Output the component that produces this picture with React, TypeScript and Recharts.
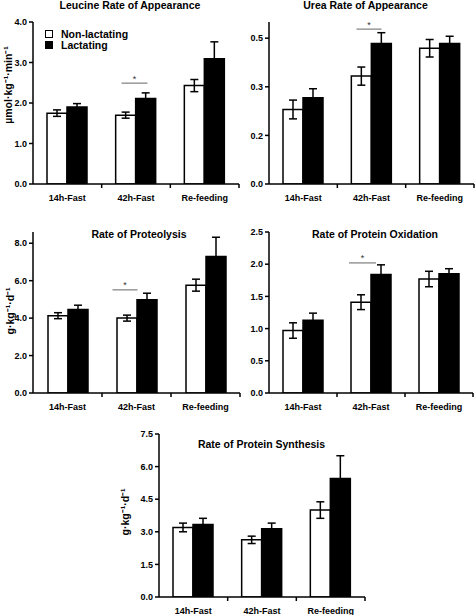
import React from "react";
import { BarChart, Bar, XAxis, YAxis, ErrorBar, ReferenceDot, Legend, Label } from "recharts";

const categories = ["14h-Fast", "42h-Fast", "Re-feeding"];
const seriesOrder = ["Non-lactating", "Lactating"];

// Leucine Ra (µmol/kg/min)
const leucineNon = [1.75, 1.7, 2.43];
const leucineNonErr = [0.08, 0.075, 0.15];
const leucineLac = [1.9, 2.11, 3.09];
const leucineLacErr = [0.085, 0.14, 0.42];

// Urea Ra
const ureaNon = [0.23, 0.333, 0.419];
const ureaNonErr = [0.029, 0.028, 0.027];
const ureaLac = [0.266, 0.434, 0.434];
const ureaLacErr = [0.028, 0.033, 0.022];
const ureaTicks = [0, 0.15, 0.3, 0.45];
const ureaTickLabels = ["0.0", "0.2", "0.3", "0.5"];

// Proteolysis (g/kg/d)
const proteoNon = [4.13, 4.0, 5.76];
const proteoNonErr = [0.16, 0.16, 0.32];
const proteoLac = [4.46, 4.98, 7.29];
const proteoLacErr = [0.23, 0.35, 1.03];

// Protein oxidation
const oxidNon = [0.97, 1.41, 1.77];
const oxidNonErr = [0.12, 0.115, 0.12];
const oxidLac = [1.13, 1.84, 1.85];
const oxidLacErr = [0.11, 0.15, 0.08];

// Protein synthesis
const synthNon = [3.2, 2.63, 4.0];
const synthNonErr = [0.2, 0.17, 0.38];
const synthLac = [3.34, 3.14, 5.45];
const synthLacErr = [0.28, 0.26, 1.05];

const FONT = "'Liberation Sans', Arial, Helvetica, sans-serif";
const XAXIS_H = 30;

function rows(non: number[], nonErr: number[], lac: number[], lacErr: number[]) {
  return categories.map((name, i) => ({
    name,
    non: non[i],
    nonErr: nonErr[i],
    lac: lac[i],
    lacErr: lacErr[i],
  }));
}

function CategoryTick(props: any) {
  const { x, y, payload } = props;
  const half = payload?.offset ?? 0;
  return (
    <g>
      <line x1={x + half} x2={x + half} y1={y} y2={y + 4} stroke="#000" strokeWidth={1.5} />
      <text x={x} y={y + 17} textAnchor="middle" fontSize={9} fontWeight="bold" fill="#000" fontFamily={FONT}>
        {payload.value}
      </text>
    </g>
  );
}

function LegendBox({ payload }: any) {
  const items = [...(payload || [])].sort(
    (a: any, b: any) => seriesOrder.indexOf(a.value) - seriesOrder.indexOf(b.value)
  );
  return (
    <div style={{ fontFamily: FONT, fontWeight: "bold", fontSize: 10.5, color: "#000" }}>
      {items.map((p: any) => (
        <div key={p.value} style={{ display: "flex", alignItems: "center", height: 10.5, lineHeight: "10.5px" }}>
          <span
            style={{
              display: "inline-block",
              width: 6,
              height: 6,
              background: p.color,
              border: "1.2px solid #000",
              marginRight: 8,
            }}
          />
          {p.value}
        </div>
      ))}
    </div>
  );
}

interface PanelProps {
  left: number;
  top: number;
  box: [number, number, number, number]; // plot x0, x1, y0, y1 in page coords
  data: ReturnType<typeof rows>;
  domain: [number, number];
  ticks: number[];
  tickLabels?: string[];
  yLabel?: string;
  labelPos?: [number, number];
  sigY?: number;
  sigDx?: [number, number];
  legend?: boolean;
}

function Panel(p: PanelProps) {
  const [x0, x1, y0, y1] = p.box;
  const yWidth = x0 - p.left;
  const width = x1 - p.left + 3;
  const marginTop = y0 - p.top;
  const height = y1 - p.top + XAXIS_H;
  const fmt = (v: number) => {
    if (p.tickLabels) {
      const i = p.ticks.findIndex((t) => Math.abs(t - v) < 1e-9);
      return i >= 0 ? p.tickLabels[i] : String(v);
    }
    return v.toFixed(1);
  };
  const [d1, d2] = p.sigDx ?? [-18, 8];
  return (
    <div style={{ position: "absolute", left: p.left, top: p.top }}>
      <BarChart
        width={width}
        height={height}
        data={p.data}
        margin={{ top: marginTop, right: 3, bottom: 0, left: 0 }}
        barSize={20}
        barGap={0}
      >
        <XAxis
          dataKey="name"
          height={XAXIS_H}
          tickLine={false}
          tickSize={0}
          tickMargin={0}
          axisLine={{ stroke: "#000", strokeWidth: 1.5 }}
          tick={<CategoryTick />}
          interval={0}
        />
        <YAxis
          width={yWidth}
          domain={p.domain}
          ticks={p.ticks}
          tickFormatter={fmt}
          allowDataOverflow
          axisLine={{ stroke: "#000", strokeWidth: 1.5 }}
          tickLine={{ stroke: "#000", strokeWidth: 1.5 }}
          tickSize={4}
          tickMargin={2}
          tick={{ fontSize: 9, fontWeight: "bold", fill: "#000", fontFamily: FONT }}
        >
          {p.yLabel && p.labelPos && (
            <Label
              content={() => (
                <text
                  transform={`translate(${p.labelPos![0]},${p.labelPos![1]}) rotate(-90)`}
                  textAnchor="middle"
                  dominantBaseline="central"
                  fontSize={10.5}
                  fontWeight="bold"
                  fill="#000"
                  fontFamily={FONT}
                >
                  {p.yLabel}
                </text>
              )}
            />
          )}
        </YAxis>
        {p.legend && (
          <Legend
            layout="horizontal"
            verticalAlign="middle"
            align="center"
            content={<LegendBox />}
            wrapperStyle={{ left: 45, top: 29, width: "auto", height: "auto" }}
          />
        )}
        <Bar dataKey="non" name="Non-lactating" fill="#fff" stroke="#000" strokeWidth={1.5} isAnimationActive={false}>
          <ErrorBar dataKey="nonErr" width={4} stroke="#000" strokeWidth={1.5} />
        </Bar>
        <Bar dataKey="lac" name="Lactating" fill="#000" stroke="#000" strokeWidth={1.5} isAnimationActive={false}>
          <ErrorBar dataKey="lacErr" width={4} stroke="#000" strokeWidth={1.5} />
        </Bar>
        {p.sigY !== undefined && (
          <ReferenceDot
            x="42h-Fast"
            y={p.sigY}
            r={0}
            shape={(s: any) => (
              <g>
                <line x1={s.cx + d1} x2={s.cx + d2} y1={s.cy} y2={s.cy} stroke="#888" strokeWidth={1.3} />
                <text
                  x={s.cx + (d1 + d2) / 2}
                  y={s.cy - 1.5}
                  textAnchor="middle"
                  fontSize={9}
                  fill="#333"
                  fontFamily={FONT}
                >
                  *
                </text>
              </g>
            )}
          />
        )}
      </BarChart>
    </div>
  );
}

const titles: [string, number, number][] = [
  ["Leucine Rate of Appearance", 130, 8.5],
  ["Urea Rate of Appearance", 365.5, 8.5],
  ["Rate of Proteolysis", 139, 238],
  ["Rate of Protein Oxidation", 375, 238],
  ["Rate of Protein Synthesis", 261.5, 448],
];

export default function App() {
  return (
    <div
      style={{
        position: "absolute",
        left: 0,
        top: 0,
        width: 476,
        height: 615,
        overflow: "hidden",
        background: "#fff",
        fontFamily: FONT,
      }}
    >
      <Panel
        left={0}
        top={0}
        box={[33, 239, 22, 184]}
        data={rows(leucineNon, leucineNonErr, leucineLac, leucineLacErr)}
        domain={[0, 4]}
        ticks={[0, 1, 2, 3, 4]}
        yLabel="µmol·kg⁻¹·min⁻¹"
        labelPos={[8, 85]}
        sigY={2.49}
        sigDx={[-14.5, 11.5]}
        legend
      />
      <Panel
        left={240}
        top={0}
        box={[269, 474, 22, 184]}
        data={rows(ureaNon, ureaNonErr, ureaLac, ureaLacErr)}
        domain={[0, 0.5]}
        ticks={ureaTicks}
        tickLabels={ureaTickLabels}
        sigY={0.478}
        sigDx={[-15, 10]}
      />
      <Panel
        left={0}
        top={210}
        box={[33, 240, 232, 393]}
        data={rows(proteoNon, proteoNonErr, proteoLac, proteoLacErr)}
        domain={[0, 8.6]}
        ticks={[0, 2, 4, 6, 8]}
        yLabel="g·kg⁻¹·d⁻¹"
        labelPos={[10, 101]}
        sigY={5.51}
        sigDx={[-24, 1]}
      />
      <Panel
        left={240}
        top={210}
        box={[269, 473, 232, 393]}
        data={rows(oxidNon, oxidNonErr, oxidLac, oxidLacErr)}
        domain={[0, 2.5]}
        ticks={[0, 0.5, 1, 1.5, 2, 2.5]}
        sigY={2.02}
        sigDx={[-22, 5]}
      />
      <Panel
        left={110}
        top={420}
        box={[159, 365, 434, 597]}
        data={rows(synthNon, synthNonErr, synthLac, synthLacErr)}
        domain={[0, 7.5]}
        ticks={[0, 1.5, 3, 4.5, 6, 7.5]}
        yLabel="g·kg⁻¹·d⁻¹"
        labelPos={[15, 92]}
      />
      <svg
        width={476}
        height={615}
        style={{ position: "absolute", left: 0, top: 0, pointerEvents: "none" }}
      >
        {titles.map(([t, x, y]) => (
          <text key={t} x={x} y={y} textAnchor="middle" fontSize={10.5} fontWeight="bold" fill="#000" fontFamily={FONT}>
            {t}
          </text>
        ))}
      </svg>
    </div>
  );
}
